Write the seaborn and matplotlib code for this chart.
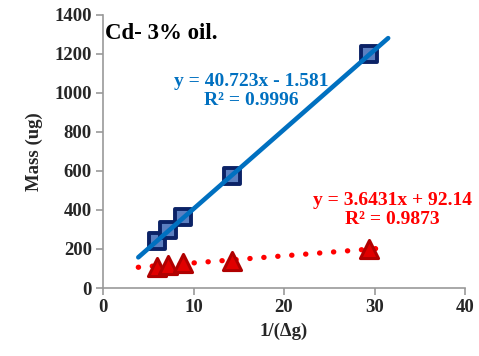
import numpy as np
import pandas as pd
import matplotlib
matplotlib.use("Agg")
import matplotlib.pyplot as plt
import seaborn as sns

# Measured points
inv_dg = [6.0, 7.2, 8.8, 14.3, 29.4]
mass_cd = [243, 297, 364, 572, 1200]
mass_oil = [106, 117, 128, 140, 198]

# Linear trend coefficients (slope, intercept, R²)
fit_cd = (40.723, -1.581, 0.9996)
fit_oil = (3.6431, 92.14, 0.9873)

sns.set_theme(style="white")
plt.rcParams["font.family"] = ["Liberation Serif", "DejaVu Serif"]
plt.rcParams["font.weight"] = "bold"

fig = plt.figure(figsize=(4.79, 3.56), dpi=100)
ax = fig.add_axes([0.215, 0.191, 0.756, 0.767])

df = pd.DataFrame({"x": inv_dg, "cd": mass_cd, "oil": mass_oil})

# Trend lines from the stated equations
tx = np.array([3.9, 31.5])
ax.plot(tx, fit_cd[0] * tx + fit_cd[1], color="#0070c0", lw=3.3,
        solid_capstyle="round", zorder=3)
tx2 = np.array([3.9, 30.8])
ax.plot(tx2, fit_oil[0] * tx2 + fit_oil[1], color="#ff0000", lw=3.8,
        linestyle=(0, (0.05, 2.6)), dash_capstyle="round", zorder=1)

sns.scatterplot(data=df, x="x", y="cd", ax=ax, marker="s", s=140,
                color="#5b7fc0", edgecolor="#0b2266", linewidth=2.8, zorder=2)
sns.scatterplot(data=df, x="x", y="oil", ax=ax, marker="^", s=170,
                color="#e00000", edgecolor="#b00000", linewidth=2.2, zorder=2)

ax.set_xlim(0, 40)
ax.set_ylim(0, 1400)
ax.set_xticks([0, 10, 20, 30, 40])
ax.set_yticks(range(0, 1401, 200))

for side in ["top", "right"]:
    ax.spines[side].set_visible(False)
for side in ["left", "bottom"]:
    ax.spines[side].set_color("#999999")
    ax.spines[side].set_linewidth(1.2)

ax.tick_params(axis="both", which="both", direction="out", length=5,
               width=1.2, color="#999999", labelsize=13.5, pad=3,
               bottom=True, left=True)
for lab in ax.get_xticklabels() + ax.get_yticklabels():
    lab.set_fontweight("bold")

ax.set_xlabel("1/(\u0394g)", fontsize=13.5, fontweight="bold", labelpad=5)
ax.set_ylabel("Mass (ug)", fontsize=13.5, fontweight="bold", labelpad=8)

ax.text(0.006, 0.97, "Cd- 3% oil.", transform=ax.transAxes, fontsize=16.5,
        fontweight="bold", ha="left", va="top", color="black")

ax.text(0.41, 0.72,
        f"y = {fit_cd[0]:.3f}x - {abs(fit_cd[1]):.3f}\nR\u00b2 = {fit_cd[2]:.4f}",
        transform=ax.transAxes, fontsize=14, fontweight="bold",
        color="#0070c0", ha="center", va="center", linespacing=1.15)
ax.text(0.80, 0.285,
        f"y = {fit_oil[0]:.4f}x + {fit_oil[1]:.2f}\nR\u00b2 = {fit_oil[2]:.4f}",
        transform=ax.transAxes, fontsize=14, fontweight="bold",
        color="#ff0000", ha="center", va="center", linespacing=1.15)

fig.savefig("out.png", dpi=100)
